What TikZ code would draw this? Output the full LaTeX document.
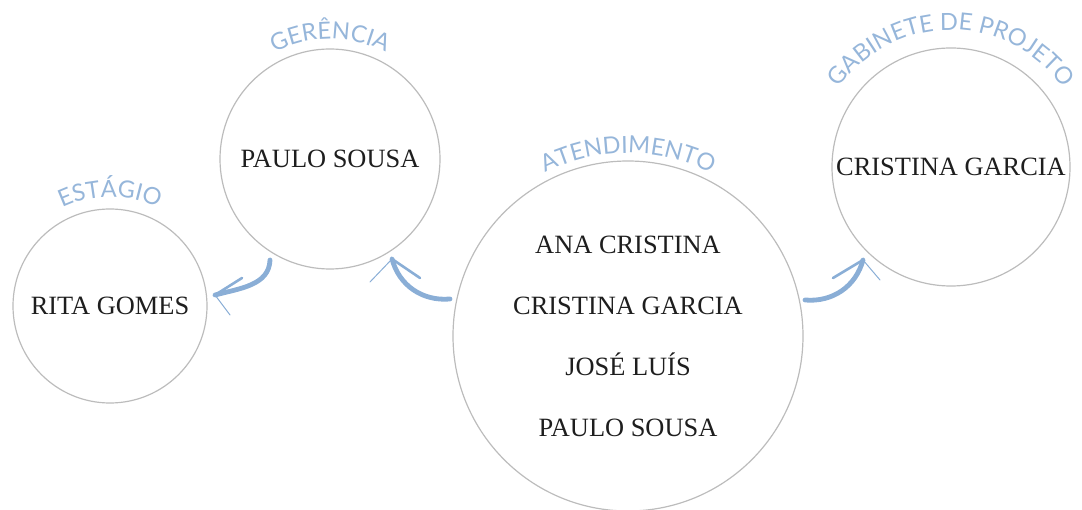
\documentclass[tikz,border=0pt]{standalone}
\usepackage{fontspec}
\setmainfont{Liberation Serif}
\newfontfamily\rotulofont{Lato}
\usepackage{xcolor}
\usetikzlibrary{decorations.text,calc}
\definecolor{azul}{RGB}{138,174,214}
\definecolor{azulclaro}{RGB}{150,182,218}
\definecolor{cinza}{RGB}{188,188,188}
\definecolor{tinta}{RGB}{30,30,30}

\begin{document}
\begin{tikzpicture}[x=0.5pt,y=0.5pt,
  setor/.style={circle, draw=cinza, line width=0.6pt, inner sep=0pt, text=tinta, align=center, font=\fontsize{13.2}{30.5}\selectfont},
  seta/.style={draw=azul, line width=2.4pt, line cap=round},
  ponta/.style={draw=azul, line width=1.3pt, line cap=round},
  ponta fina/.style={draw=azul, line width=0.5pt, line cap=round},
  rotulo/.style={decorate, decoration={text along path, text align=center, text color=azulclaro, text={|\rotulofont\fontsize{11.8}{14}\selectfont|#1}}}]
\useasboundingbox (0,0) rectangle (1082,509);

\node[setor, minimum size=97pt] (est) at (110,203) {RITA GOMES};
\node[setor, minimum size=110pt] (ger) at (330,350) {PAULO SOUSA};
\node[setor, minimum size=175pt] (ate) at (628,173) {ANA CRISTINA\\CRISTINA GARCIA\\JOSÉ LUÍS\\PAULO SOUSA};
\node[setor, minimum size=119pt] (gab) at (951,342) {CRISTINA GARCIA};

%curved titles
\path[rotulo=ESTÁGIO] ($(est)+(150:109)$) arc[start angle=150, end angle=30, radius=109];
\path[rotulo=GERÊNCIA] ($(ger)+(150:120)$) arc[start angle=150, end angle=30, radius=120];
\path[rotulo=ATENDIMENTO] ($(ate)+(140:183)$) arc[start angle=140, end angle=40, radius=183];
\path[rotulo=GABINETE DE PROJETO] ($(gab)+(165:137)$) arc[start angle=165, end angle=15, radius=137];

%arrows
\coordinate (g2e-a) at (270,249);
\coordinate (g2e-b) at (215,214);
\draw[seta] (g2e-a) to[out=-92,in=15] (g2e-b);
\draw[ponta] (g2e-b) -- ++(27,17);
\draw[ponta fina] (g2e-b) -- ++(15,-20);

\coordinate (a2g-a) at (450,210);
\coordinate (a2g-b) at (392,250);
\draw[seta] (a2g-a) to[out=185,in=-75] (a2g-b);
\draw[ponta] (a2g-b) -- ++(28,-19);
\draw[ponta fina] (a2g-b) -- ++(-22,-23);

\coordinate (a2b-a) at (805,209);
\coordinate (a2b-b) at (863,249);
\draw[seta] (a2b-a) to[out=-5,in=-105] (a2b-b);
\draw[ponta] (a2b-b) -- ++(-30,-18);
\draw[ponta fina] (a2b-b) -- ++(17,-20);
\end{tikzpicture}
\end{document}
